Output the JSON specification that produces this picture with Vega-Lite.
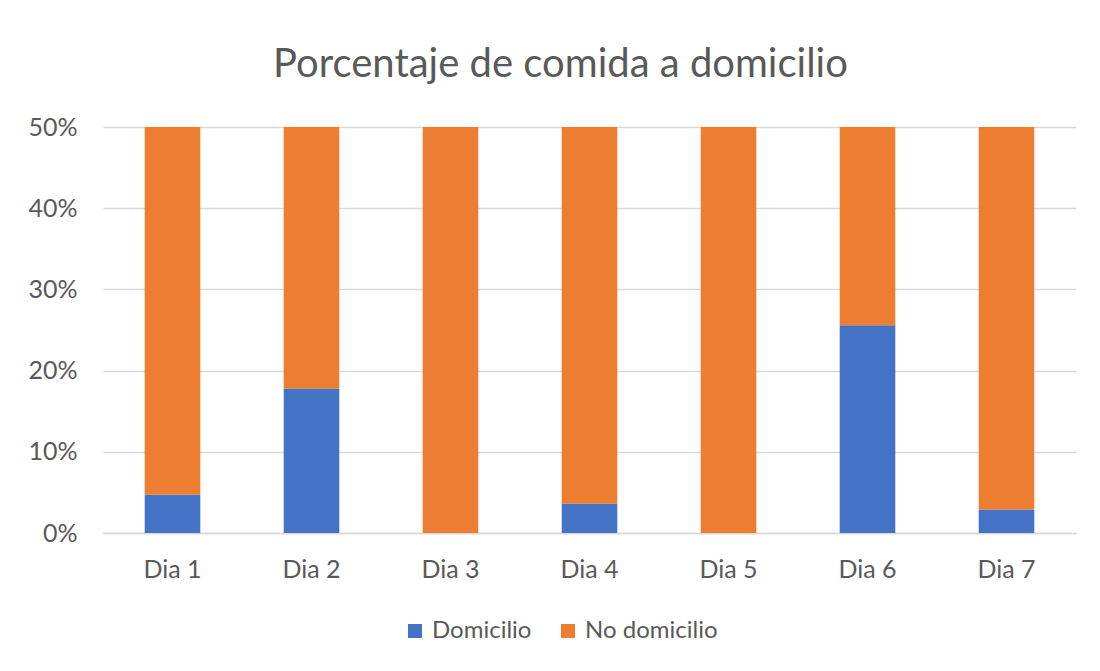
{
  "$schema": "https://vega.github.io/schema/vega-lite/v6.json",
  "autosize": "none",
  "width": 973,
  "height": 406,
  "padding": {"left": 103, "top": 127, "right": 24, "bottom": 138},
  "background": "white",
  "config": {
    "font": "Lato",
    "view": {"stroke": null}
  },
  "title": {
    "text": "Porcentaje de comida a domicilio",
    "fontSize": 40,
    "font": "Lato",
    "fontWeight": "normal",
    "color": "#595959",
    "anchor": "middle",
    "dx": -29,
    "offset": 30
  },
  "data": {
    "values": [
      {"dia": "Dia 1", "tipo": "Domicilio", "pct": 0.047},
      {"dia": "Dia 1", "tipo": "No domicilio", "pct": 0.953},
      {"dia": "Dia 2", "tipo": "Domicilio", "pct": 0.178},
      {"dia": "Dia 2", "tipo": "No domicilio", "pct": 0.822},
      {"dia": "Dia 3", "tipo": "Domicilio", "pct": 0.0},
      {"dia": "Dia 3", "tipo": "No domicilio", "pct": 1.0},
      {"dia": "Dia 4", "tipo": "Domicilio", "pct": 0.036},
      {"dia": "Dia 4", "tipo": "No domicilio", "pct": 0.964},
      {"dia": "Dia 5", "tipo": "Domicilio", "pct": 0.0},
      {"dia": "Dia 5", "tipo": "No domicilio", "pct": 1.0},
      {"dia": "Dia 6", "tipo": "Domicilio", "pct": 0.256},
      {"dia": "Dia 6", "tipo": "No domicilio", "pct": 0.744},
      {"dia": "Dia 7", "tipo": "Domicilio", "pct": 0.029},
      {"dia": "Dia 7", "tipo": "No domicilio", "pct": 0.971}
    ]
  },
  "mark": {"type": "bar", "clip": true},
  "encoding": {
    "x": {
      "field": "dia",
      "type": "nominal",
      "title": null,
      "scale": {"paddingInner": 0.6, "paddingOuter": 0.3},
      "axis": {
        "labelAngle": 0,
        "labelFontSize": 25,
        "labelColor": "#595959",
        "labelPadding": 24,
        "ticks": false,
        "domain": true,
        "domainColor": "#d9d9d9",
        "domainWidth": 1.5
      }
    },
    "y": {
      "field": "pct",
      "type": "quantitative",
      "stack": "zero",
      "title": null,
      "scale": {"domain": [0, 0.5], "nice": false},
      "axis": {
        "values": [0, 0.1, 0.2, 0.3, 0.4, 0.5],
        "format": ".0%",
        "labelFontSize": 25,
        "labelColor": "#595959",
        "labelPadding": 26,
        "ticks": false,
        "domain": false,
        "gridColor": "#d9d9d9",
        "gridWidth": 1.5
      }
    },
    "color": {
      "field": "tipo",
      "type": "nominal",
      "scale": {"domain": ["Domicilio", "No domicilio"], "range": ["#4472C4", "#ED7D31"]},
      "legend": {
        "title": null,
        "orient": "none",
        "direction": "horizontal",
        "legendX": 300,
        "legendY": 492,
        "symbolType": "square",
        "symbolSize": 196,
        "symbolStrokeWidth": 0,
        "labelFontSize": 24,
        "labelColor": "#595959",
        "labelOffset": 5,
        "columnPadding": 24
      }
    },
    "order": {"field": "tipo", "sort": "ascending"}
  }
}
